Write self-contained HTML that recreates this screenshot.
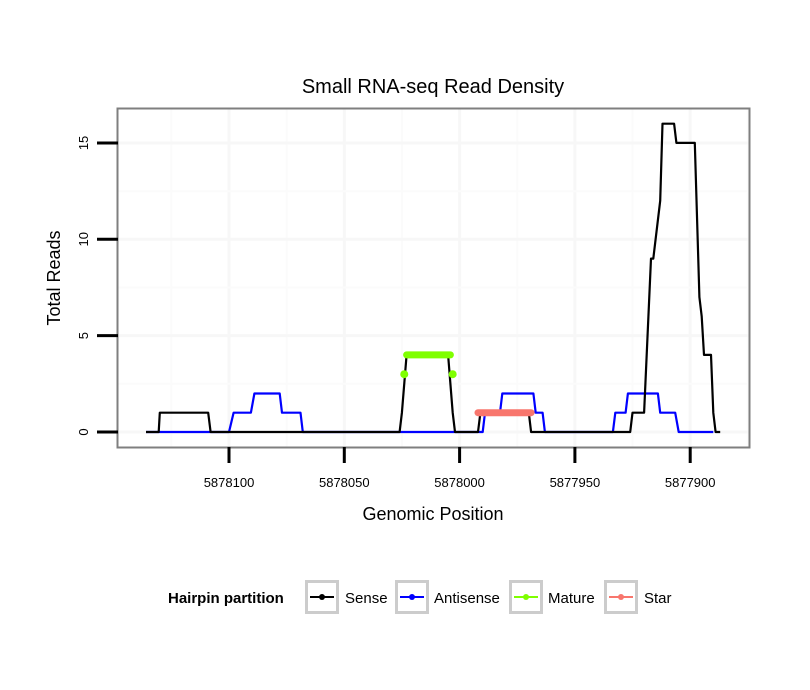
<!DOCTYPE html>
<html><head><meta charset="utf-8"><style>
body{margin:0;background:#fff;}
svg{display:block;font-family:"Liberation Sans",Arial,sans-serif;}
</style></head><body>
<svg id="chart" width="810" height="690" viewBox="0 0 810 690">
<rect x="0" y="0" width="810" height="690" fill="#fff"/>
<text x="433" y="93" font-size="20" text-anchor="middle">Small RNA-seq Read Density</text>
<g id="grid"></g>
<g id="series"></g>
<rect x="117.5" y="108.5" width="632" height="339" fill="none" stroke="#7f7f7f" stroke-width="2"/>
<g id="axes"></g>
<text x="433" y="520" font-size="18" text-anchor="middle">Genomic Position</text>
<text transform="translate(60,278) rotate(-90)" font-size="18" text-anchor="middle">Total Reads</text>
<g>
<text x="168" y="603" font-size="15" font-weight="bold">Hairpin partition</text>
<g>
<rect x="306.5" y="581.5" width="31" height="31" fill="#fff" stroke="#ccc" stroke-width="3"/>
<line x1="310" y1="597" x2="334" y2="597" stroke="#000" stroke-width="2"/><circle cx="322" cy="597" r="3" fill="#000"/>
<text x="345" y="603" font-size="15">Sense</text></g>
<g>
<rect x="396.5" y="581.5" width="31" height="31" fill="#fff" stroke="#ccc" stroke-width="3"/>
<line x1="400" y1="597" x2="424" y2="597" stroke="#00f" stroke-width="2"/><circle cx="412" cy="597" r="3" fill="#00f"/>
<text x="434" y="603" font-size="15">Antisense</text></g>
<g>
<rect x="510.5" y="581.5" width="31" height="31" fill="#fff" stroke="#ccc" stroke-width="3"/>
<line x1="514" y1="597" x2="538" y2="597" stroke="#7fff00" stroke-width="2"/><circle cx="526" cy="597" r="3" fill="#7fff00"/>
<text x="548" y="603" font-size="15">Mature</text></g>
<g>
<rect x="605.5" y="581.5" width="31" height="31" fill="#fff" stroke="#ccc" stroke-width="3"/>
<line x1="609" y1="597" x2="633" y2="597" stroke="#f8766d" stroke-width="2"/><circle cx="621" cy="597" r="3" fill="#f8766d"/>
<text x="644" y="603" font-size="15">Star</text></g>
</g>
</svg>
<script>
const xTicks=[5878100,5878050,5878000,5877950,5877900];
const yTicks=[0,5,10,15];
const senseX=[5878136,5878130.5,5878130,5878109,5878108,5878026,5878025,5878023,5878005,5878003,5878002,5877992,5877991,5877970,5877969,5877926,5877925,5877920,5877917,5877916,5877913,5877912,5877907,5877906,5877898,5877896,5877895,5877894,5877891,5877890,5877889,5877887];
const senseY=[0,0,1,1,0,0,1,4,4,1,0,0,1,1,0,0,1,1,9,9,12,16,16,15,15,7,6,4,4,1,0,0];
const antiX=[5878136,5878100,5878098,5878090.5,5878089,5878078,5878077,5878069,5878068,5877990,5877989,5877982.5,5877981.5,5877968,5877967,5877964,5877963,5877933.5,5877932.5,5877928,5877927,5877914,5877913,5877906.5,5877905,5877890];
const antiY=[0,0,1,1,2,2,1,1,0,0,1,1,2,2,1,1,0,0,1,1,2,2,1,1,0,0];
const matureX=[5878023,5878004];
const matureY=[4,4];
const matureDotX=[5878024,5878003];
const matureDotY=[3,3];
const starX=[5877992,5877969];
const starY=[1,1];

const NS="http://www.w3.org/2000/svg";
const L=118,R=749,T=109,B=447;
function sx(p){return 229+(5878100-p)*115.3/50;}
function sy(v){return 432-v*19.27;}
function mk(tag,attrs,parent){const e=document.createElementNS(NS,tag);for(const k in attrs)e.setAttribute(k,attrs[k]);parent.appendChild(e);return e;}
const grid=document.getElementById('grid'),series=document.getElementById('series'),axes=document.getElementById('axes');
for(let i=-1;i<xTicks.length;i++){
  const p=xTicks[Math.max(i,0)]-(i<0?-25:25);
  const x=sx(p);
  if(x>L&&x<R){const g=mk('line',{x1:x,x2:x,y1:T,y2:B,stroke:'#fbfbfb','stroke-width':2},grid);
  
  }
}
xTicks.forEach(p=>{const x=sx(p);
  const g=mk('line',{x1:x,x2:x,y1:T,y2:B,stroke:'#f7f7f7','stroke-width':3},grid);
  
  
  const t=mk('line',{x1:x,x2:x,y1:B,y2:B+16,stroke:'#000','stroke-width':3},axes);
  
  
  const lb=mk('text',{x:x,y:B+40,'font-size':13,'text-anchor':'middle'},axes);lb.textContent=p;
  
  
});
yTicks.forEach(v=>{const y=sy(v);
  const g=mk('line',{x1:L,x2:R,y1:y,y2:y,stroke:'#f7f7f7','stroke-width':3},grid);
  
  
  const m=sy(v+2.5);
  if(m>T){const g2=mk('line',{x1:L,x2:R,y1:m,y2:m,stroke:'#fbfbfb','stroke-width':2},grid);
  
  }
  const t=mk('line',{x1:L-21,x2:L,y1:y,y2:y,stroke:'#000','stroke-width':3},axes);
  
  
  const lb=mk('text',{transform:`translate(88,${y}) rotate(-90)`,'font-size':13,'text-anchor':'middle'},axes);lb.textContent=v;
  
  
});
function line(xs,ys,color,w,name,cap){
  const d=xs.map((p,i)=>(i?'L':'M')+sx(p).toFixed(1)+','+sy(ys[i]).toFixed(1)).join('');
  const e=mk('path',{d:d,fill:'none',stroke:color,'stroke-width':w,'stroke-linejoin':'round','stroke-linecap':cap||'butt'},series);
  
  
}
line(antiX,antiY,'#00f',2.2,'antisense-line');
line(senseX,senseY,'#000',2.2,'sense-line');
line(matureX,matureY,'#7fff00',7,'mature-line','round');
matureDotX.forEach((p,i)=>{const c=mk('circle',{cx:sx(p),cy:sy(matureDotY[i]),r:4,fill:'#7fff00'},series);
  
  });
line(starX,starY,'#f8766d',7,'star-line','round');
</script>
</body></html>
